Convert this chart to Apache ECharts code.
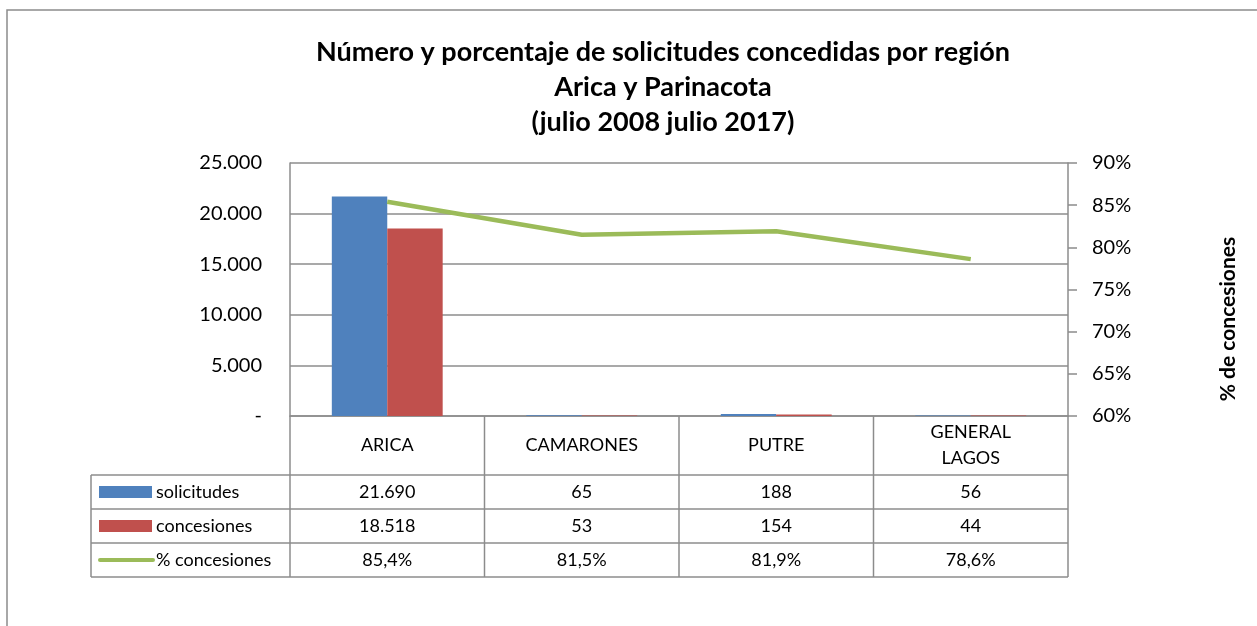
<!DOCTYPE html>
<html>
<head>
<meta charset="utf-8">
<script src="https://cdn.jsdelivr.net/npm/echarts@6/dist/echarts.min.js"></script>
<style>
  html, body { margin: 0; padding: 0; background: #fff; }
  #chart { width: 1257px; height: 626px; }
</style>
</head>
<body>
<div id="chart"></div>
<script>
// datos
var categories = ["ARICA", "CAMARONES", "PUTRE", "GENERAL\nLAGOS"];
var solicitudes = [21690, 65, 188, 56];
var concesiones = [18518, 53, 154, 44];
var pctConcesiones = [85.4, 81.5, 81.9, 78.6];
var leftTicks = [0, 5000, 10000, 15000, 20000, 25000];
var rightTicks = [60, 65, 70, 75, 80, 85, 90];

var colors = { sol: "#4F81BD", con: "#C0504D", pct: "#9BBB59", grid: "#8c8c8c" };
var font = "Lato, 'Open Sans', sans-serif";

// area del grafico (pixeles)
var G = { left: 290, right: 1068, top: 163, bottom: 416 };
var rowH = [59, 34, 34, 34];
var legendX = 91;

function fmtNum(v) {
  return String(v).replace(/\B(?=(\d{3})+(?!\d))/g, ".");
}
function fmtPct(v) {
  return v.toFixed(1).replace(".", ",") + "%";
}

var chart = echarts.init(document.getElementById("chart"));

// tabla de datos bajo el eje
function buildTable() {
  var els = [];
  var n = categories.length;
  var colW = (G.right - G.left) / n;
  var line = function (x1, y1, x2, y2) {
    els.push({ type: "line", shape: { x1: x1, y1: y1, x2: x2, y2: y2 },
      style: { stroke: colors.grid, lineWidth: 1.5 }, silent: true });
  };
  var text = function (x, y, s, align) {
    els.push({ type: "text", x: x, y: y,
      style: { text: s, font: "18px " + font, fill: "#000", align: align || "center",
        verticalAlign: "middle", lineHeight: 26 }, silent: true });
  };
  var y0 = G.bottom;
  var y1 = y0 + rowH[0];
  var y2 = y1 + rowH[1];
  var y3 = y2 + rowH[2];
  var y4 = y3 + rowH[3];
  // horizontales
  line(legendX, y1, G.right, y1);
  line(legendX, y2, G.right, y2);
  line(legendX, y3, G.right, y3);
  line(legendX, y4, G.right, y4);
  // verticales
  line(legendX, y1, legendX, y4);
  for (var i = 0; i <= n; i++) {
    line(G.left + i * colW, y0, G.left + i * colW, y4);
  }
  // celdas
  for (var j = 0; j < n; j++) {
    var cx = G.left + (j + 0.5) * colW;
    text(cx, (y0 + y1) / 2, categories[j]);
    text(cx, (y1 + y2) / 2, fmtNum(solicitudes[j]));
    text(cx, (y2 + y3) / 2, fmtNum(concesiones[j]));
    text(cx, (y3 + y4) / 2, fmtPct(pctConcesiones[j]));
  }
  // leyenda
  els.push({ type: "rect", shape: { x: 99, y: (y1 + y2) / 2 - 6, width: 53, height: 12 },
    style: { fill: colors.sol }, silent: true });
  els.push({ type: "rect", shape: { x: 99, y: (y2 + y3) / 2 - 6, width: 53, height: 12 },
    style: { fill: colors.con }, silent: true });
  els.push({ type: "line", shape: { x1: 100, y1: (y3 + y4) / 2, x2: 153, y2: (y3 + y4) / 2 },
    style: { stroke: colors.pct, lineWidth: 4, lineCap: "round" }, silent: true });
  text(156, (y1 + y2) / 2, "solicitudes", "left");
  text(156, (y2 + y3) / 2, "concesiones", "left");
  text(156, (y3 + y4) / 2, "% concesiones", "left");
  // titulo del eje derecho
  els.push({ type: "text", x: 1228, y: 319, rotation: Math.PI / 2,
    style: { text: "% de concesiones", font: "bold 21px " + font, fill: "#000",
      align: "center", verticalAlign: "middle" }, silent: true });
  // marco exterior
  els.push({ type: "rect", shape: { x: 7, y: 10, width: 1270, height: 640 },
    style: { fill: "none", stroke: "#8c8c8c", lineWidth: 1.5 }, silent: true, z: -1 });
  return els;
}

var option = {
  animation: false,
  backgroundColor: "#fff",
  title: {
    text: "Número y porcentaje de solicitudes concedidas por región\nArica y Parinacota\n(julio 2008 julio 2017)",
    left: 658,
    top: 30,
    textAlign: "center",
    textStyle: { fontFamily: font, fontWeight: "bold", fontSize: 27, lineHeight: 35, color: "#000" }
  },
  grid: { left: G.left, right: 1257 - G.right, top: G.top, bottom: 626 - G.bottom },
  xAxis: {
    type: "category",
    data: categories,
    axisLabel: { show: false },
    axisTick: { show: false },
    axisLine: { lineStyle: { color: colors.grid, width: 1.5 } }
  },
  yAxis: [
    {
      type: "value",
      min: leftTicks[0],
      max: leftTicks[leftTicks.length - 1],
      interval: leftTicks[1] - leftTicks[0],
      axisLine: { show: true, lineStyle: { color: colors.grid, width: 1.5 } },
      axisTick: { show: false },
      splitLine: { lineStyle: { color: colors.grid, width: 1.5 } },
      axisLabel: {
        fontFamily: font, fontSize: 20, color: "#000", margin: 28,
        formatter: function (v) { return v === 0 ? "-" : fmtNum(v); }
      }
    },
    {
      type: "value",
      position: "right",
      min: rightTicks[0],
      max: rightTicks[rightTicks.length - 1],
      interval: rightTicks[1] - rightTicks[0],
      axisLine: { show: true, lineStyle: { color: colors.grid, width: 1.5 } },
      axisTick: { show: true, length: 9, lineStyle: { color: colors.grid, width: 1.5 } },
      splitLine: { show: false },
      axisLabel: {
        fontFamily: font, fontSize: 20, color: "#000", margin: 24,
        formatter: function (v) { return v + "%"; }
      }
    }
  ],
  series: [
    {
      name: "solicitudes",
      type: "bar",
      data: solicitudes,
      barGap: "0%",
      barCategoryGap: "43%",
      itemStyle: { color: colors.sol }
    },
    {
      name: "concesiones",
      type: "bar",
      data: concesiones,
      itemStyle: { color: colors.con }
    },
    {
      name: "% concesiones",
      type: "line",
      yAxisIndex: 1,
      data: pctConcesiones,
      symbol: "none",
      lineStyle: { color: colors.pct, width: 4.5 },
      z: 5
    }
  ],
  graphic: buildTable()
};

chart.setOption(option);
</script>
</body>
</html>
